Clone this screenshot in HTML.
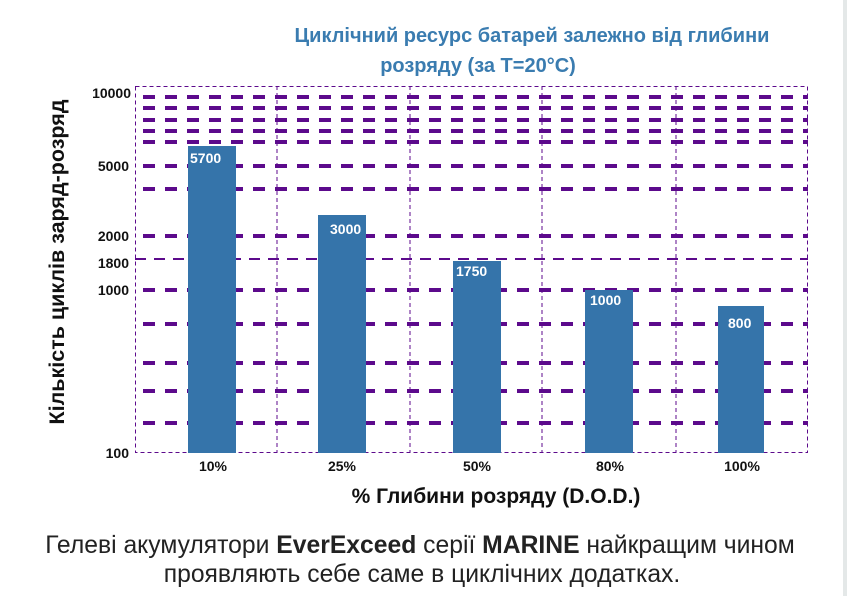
<!DOCTYPE html>
<html><head><meta charset="utf-8"><style>
html,body{margin:0;padding:0;background:#fff;}
body{width:847px;height:596px;overflow:hidden;position:relative;font-family:"Liberation Sans",sans-serif;}
</style></head><body>
<div style="position:absolute;right:0;top:0;width:4px;height:596px;background:#e4e8e8"></div>
<svg width="847" height="596" style="position:absolute;left:0;top:0" font-family="Liberation Sans, sans-serif">
<text x="532" y="42" text-anchor="middle" font-size="20" font-weight="bold" fill="#3a7cb0">Циклічний ресурс батарей залежно від глибини</text>
<text x="478" y="72" text-anchor="middle" font-size="20" font-weight="bold" fill="#3a7cb0">розряду (за T=20°C)</text>
<g stroke="#5c0a8c" fill="none">
<rect x="135.5" y="86.5" width="672" height="366" stroke-width="1" stroke-dasharray="4,3"/>
<g stroke-width="1" stroke-dasharray="4,3">
<line x1="277" y1="86" x2="277" y2="453"/><line x1="410" y1="86" x2="410" y2="453"/>
<line x1="542" y1="86" x2="542" y2="453"/><line x1="676" y1="86" x2="676" y2="453"/>
</g>
<line x1="135" y1="259" x2="808" y2="259" stroke-width="2" stroke-dasharray="11,8"/>
<g stroke-width="4" stroke-dasharray="12,10">
<line x1="143" y1="97" x2="808" y2="97"/><line x1="143" y1="108" x2="808" y2="108"/>
<line x1="143" y1="120" x2="808" y2="120"/><line x1="143" y1="131" x2="808" y2="131"/>
<line x1="143" y1="142" x2="808" y2="142"/><line x1="143" y1="166" x2="808" y2="166"/>
<line x1="143" y1="189" x2="808" y2="189"/><line x1="143" y1="236" x2="808" y2="236"/>
<line x1="143" y1="290" x2="808" y2="290"/><line x1="143" y1="324" x2="808" y2="324"/>
<line x1="143" y1="363" x2="808" y2="363"/><line x1="143" y1="391" x2="808" y2="391"/>
<line x1="143" y1="423" x2="808" y2="423"/>
</g>
</g>
<g fill="#3574aa">
<rect x="188" y="146" width="48" height="307"/>
<rect x="318" y="215" width="48" height="238"/>
<rect x="453" y="261" width="48" height="192"/>
<rect x="585" y="290" width="48" height="163"/>
<rect x="718" y="306" width="46" height="147"/>
</g>
<g fill="#fff" font-size="14" font-weight="bold">
<text x="190" y="163">5700</text><text x="330" y="234">3000</text>
<text x="456" y="276">1750</text><text x="590" y="305">1000</text><text x="728" y="328">800</text>
</g>
<g font-size="14" font-weight="bold" fill="#111" text-anchor="end">
<text x="131" y="98">10000</text><text x="129" y="171">5000</text><text x="129" y="241">2000</text>
<text x="129" y="268">1800</text><text x="129" y="295">1000</text><text x="129" y="458">100</text>
</g>
<g font-size="14" font-weight="bold" fill="#111" text-anchor="middle">
<text x="213" y="471">10%</text><text x="342" y="471">25%</text><text x="477" y="471">50%</text>
<text x="610" y="471">80%</text><text x="742" y="471">100%</text>
</g>
<text x="496" y="503" text-anchor="middle" font-size="21" font-weight="bold" fill="#111">% Глибини розряду (D.O.D.)</text>
<text transform="translate(64,262) rotate(-90)" text-anchor="middle" font-size="21.5" font-weight="bold" fill="#111">Кількість циклів заряд-розряд</text>
<text x="420" y="553" text-anchor="middle" font-size="24.7" fill="#222">Гелеві акумулятори <tspan font-weight="bold">EverExceed</tspan> серії <tspan font-weight="bold">MARINE</tspan> найкращим чином</text>
<text x="422" y="582" text-anchor="middle" font-size="24.7" fill="#222">проявляють себе саме в циклічних додатках.</text>
</svg>
</body></html>
